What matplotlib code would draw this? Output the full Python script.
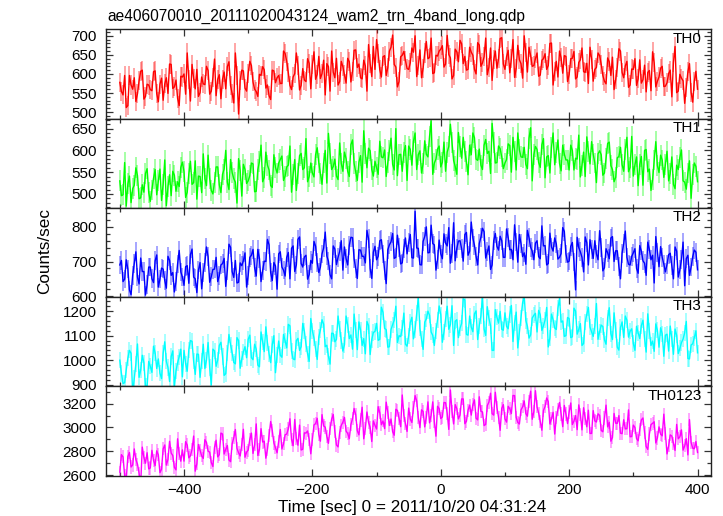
import numpy as np
import matplotlib
matplotlib.use("Agg")
import matplotlib.pyplot as plt
from matplotlib.ticker import MultipleLocator

plt.rcParams['font.family'] = ['Liberation Sans', 'DejaVu Sans']

# light curve bins, start time and bin step (sec)
t_start = -500
t_step = 2.5

# count rates per band (counts/sec)
th0 = [
    578, 554, 545, 596, 512, 517, 596, 571, 560, 590, 528, 548, 582, 607, 610, 534, 541, 573, 571, 559,
    556, 606, 608, 548, 527, 573, 589, 531, 574, 590, 549, 626, 625, 562, 566, 584, 536, 517, 594, 592,
    600, 547, 655, 586, 529, 625, 588, 561, 612, 541, 551, 592, 574, 572, 620, 609, 547, 555, 590, 639,
    543, 586, 598, 535, 586, 605, 561, 619, 632, 569, 549, 524, 655, 597, 495, 583, 610, 608, 563, 555,
    602, 633, 622, 579, 560, 554, 541, 599, 596, 619, 611, 563, 571, 543, 533, 610, 608, 577, 590, 596,
    575, 575, 660, 654, 633, 603, 570, 559, 592, 601, 655, 623, 558, 570, 614, 584, 580, 640, 628, 561,
    624, 658, 586, 599, 646, 588, 601, 636, 545, 627, 619, 555, 660, 605, 590, 641, 571, 580, 633, 619,
    598, 576, 641, 632, 579, 607, 662, 663, 617, 626, 590, 587, 636, 621, 555, 677, 627, 593, 672, 612,
    690, 653, 611, 592, 645, 648, 596, 617, 660, 670, 702, 625, 618, 566, 580, 645, 649, 659, 635, 614,
    612, 629, 668, 657, 700, 593, 621, 663, 590, 615, 655, 685, 640, 643, 694, 601, 603, 649, 647, 660,
    665, 674, 618, 626, 701, 651, 642, 587, 596, 665, 658, 632, 688, 679, 627, 646, 610, 612, 670, 657,
    649, 612, 600, 682, 676, 620, 629, 645, 694, 598, 618, 668, 583, 637, 660, 615, 640, 693, 695, 626,
    612, 645, 662, 603, 640, 690, 591, 614, 675, 637, 627, 589, 700, 656, 605, 670, 648, 620, 622, 640,
    655, 594, 597, 636, 640, 653, 612, 622, 680, 681, 571, 606, 633, 592, 660, 642, 602, 648, 646, 580,
    598, 640, 641, 659, 587, 592, 630, 637, 668, 606, 604, 628, 575, 670, 639, 581, 612, 617, 655, 648,
    625, 596, 581, 574, 642, 632, 596, 644, 559, 585, 618, 666, 660, 604, 590, 621, 633, 565, 571, 613,
    612, 640, 570, 587, 637, 576, 585, 623, 553, 604, 609, 556, 658, 629, 566, 581, 592, 615, 620, 567,
    568, 577, 601, 610, 540, 630, 672, 551, 555, 599, 589, 582, 523, 565, 606, 627, 552, 526, 580, 607,
    560,
]
th1 = [
    530, 496, 498, 572, 472, 523, 541, 480, 512, 520, 560, 542, 489, 491, 521, 504, 547, 558, 503, 483,
    509, 536, 556, 498, 530, 557, 485, 522, 578, 473, 517, 544, 496, 552, 543, 506, 528, 517, 561, 573,
    551, 492, 504, 546, 575, 522, 526, 576, 488, 541, 540, 503, 592, 535, 519, 589, 535, 508, 500, 527,
    562, 562, 521, 503, 545, 557, 600, 527, 510, 579, 549, 535, 527, 479, 581, 554, 495, 568, 556, 524,
    530, 542, 571, 569, 505, 506, 556, 574, 612, 528, 538, 596, 566, 555, 519, 515, 590, 561, 548, 571,
    579, 587, 531, 541, 562, 566, 610, 504, 545, 579, 508, 547, 588, 593, 556, 560, 627, 528, 540, 571,
    548, 539, 590, 606, 571, 547, 522, 571, 600, 525, 639, 593, 556, 563, 580, 541, 533, 617, 570, 552,
    596, 581, 552, 540, 613, 624, 570, 551, 531, 573, 588, 527, 645, 592, 560, 605, 599, 556, 541, 575,
    560, 545, 621, 585, 583, 601, 540, 572, 600, 628, 568, 555, 650, 542, 590, 591, 552, 596, 611, 531,
    610, 602, 566, 621, 640, 556, 590, 599, 548, 569, 622, 591, 585, 632, 668, 545, 571, 580, 603, 610,
    562, 573, 619, 552, 596, 609, 660, 619, 577, 563, 545, 641, 608, 582, 630, 598, 574, 544, 612, 590,
    640, 629, 580, 577, 603, 566, 556, 612, 625, 593, 598, 547, 662, 618, 571, 572, 610, 604, 585, 558,
    571, 579, 615, 611, 550, 630, 598, 555, 640, 601, 585, 584, 607, 568, 558, 628, 652, 530, 590, 609,
    602, 572, 561, 613, 627, 537, 585, 588, 548, 607, 640, 567, 596, 624, 570, 553, 612, 591, 578, 578,
    555, 612, 600, 555, 582, 580, 635, 539, 566, 596, 540, 631, 598, 569, 620, 591, 571, 526, 592, 599,
    590, 543, 548, 581, 616, 619, 565, 556, 528, 538, 583, 586, 607, 567, 552, 602, 630, 551, 561, 632,
    541, 567, 585, 519, 568, 586, 520, 600, 602, 551, 557, 508, 533, 578, 620, 565, 549, 589, 578, 538,
    568, 598, 530, 547, 585, 522, 512, 566, 556, 584, 601, 530, 527, 511, 548, 576, 490, 544, 571, 563,
    528,
]
th2 = [
    690, 703, 642, 649, 705, 678, 618, 604, 660, 694, 728, 655, 635, 710, 671, 671, 603, 633, 684, 684,
    650, 639, 702, 719, 626, 649, 681, 678, 645, 623, 715, 703, 660, 668, 612, 642, 693, 732, 670, 655,
    631, 685, 688, 637, 720, 736, 655, 650, 610, 675, 697, 621, 668, 698, 742, 714, 640, 656, 677, 678,
    712, 642, 659, 690, 694, 709, 628, 674, 750, 741, 671, 654, 703, 638, 640, 696, 688, 702, 725, 626,
    660, 712, 718, 735, 682, 658, 735, 709, 642, 674, 701, 700, 764, 748, 668, 645, 697, 687, 620, 722,
    728, 684, 675, 658, 712, 726, 650, 738, 745, 671, 690, 764, 771, 694, 684, 713, 718, 649, 662, 703,
    695, 758, 744, 697, 668, 684, 722, 739, 785, 716, 701, 662, 650, 745, 736, 691, 712, 729, 760, 675,
    742, 708, 690, 747, 770, 769, 708, 680, 651, 734, 733, 715, 715, 696, 790, 766, 680, 651, 727, 744,
    705, 715, 760, 763, 722, 674, 636, 734, 748, 757, 781, 709, 712, 776, 740, 693, 696, 738, 768, 722,
    754, 778, 711, 710, 845, 739, 738, 691, 690, 758, 772, 800, 725, 726, 805, 752, 748, 675, 706, 762,
    722, 708, 780, 753, 745, 798, 695, 724, 812, 702, 738, 759, 760, 737, 701, 778, 784, 718, 730, 814,
    768, 747, 715, 690, 752, 770, 796, 786, 710, 728, 745, 677, 690, 760, 781, 744, 733, 773, 760, 712,
    712, 794, 770, 734, 735, 705, 806, 756, 698, 778, 752, 714, 725, 692, 790, 769, 741, 730, 705, 753,
    760, 714, 708, 803, 745, 746, 690, 694, 782, 742, 730, 768, 751, 707, 712, 723, 798, 787, 722, 698,
    701, 744, 755, 699, 618, 770, 740, 728, 712, 670, 771, 754, 690, 763, 735, 709, 760, 722, 705, 789,
    740, 673, 682, 737, 725, 708, 768, 772, 700, 731, 731, 686, 650, 724, 752, 788, 712, 692, 690, 715,
    725, 737, 680, 666, 746, 730, 702, 695, 660, 756, 735, 705, 718, 638, 772, 727, 685, 743, 712, 692,
    670, 692, 720, 724, 688, 650, 742, 730, 655, 676, 705, 756, 630, 708, 718, 660, 684, 714, 733, 727,
    676,
]
th3 = [
    1000, 946, 905, 908, 960, 1008, 1040, 1028, 865, 927, 985, 1066, 930, 960, 1020, 989, 895, 893, 995, 975,
    950, 1057, 1030, 966, 1005, 947, 925, 1028, 1075, 995, 970, 913, 1015, 1038, 890, 956, 990, 1014, 1045, 932,
    1040, 986, 955, 1043, 1080, 1077, 995, 942, 1025, 1024, 930, 995, 1065, 966, 1000, 1072, 970, 899, 1045, 1038,
    975, 1001, 1060, 1073, 1015, 938, 945, 1030, 1105, 1063, 1030, 991, 985, 1092, 1080, 967, 1005, 1034, 1055, 1010,
    1085, 1102, 1010, 1002, 1065, 1045, 980, 973, 1115, 1074, 1035, 1136, 1070, 1026, 990, 1064, 1100, 949, 1020, 1078,
    1020, 1012, 1105, 1079, 1050, 1146, 1140, 1036, 1005, 1002, 1080, 1089, 1040, 1055, 1150, 1118, 1065, 1026, 995, 1170,
    1120, 1090, 1045, 1003, 1095, 1123, 1165, 1147, 1055, 1061, 1015, 984, 1110, 1109, 1075, 1085, 1180, 1128, 1080, 1037,
    1063, 1180, 1143, 1088, 1103, 1045, 1188, 1122, 1043, 1156, 1123, 1060, 1088, 1026, 1158, 1141, 1023, 1084, 1113, 1117,
    1150, 1081, 1085, 1216, 1195, 1129, 1125, 1053, 1055, 1125, 1145, 1163, 1220, 1072, 1100, 1096, 1130, 1192, 1065, 1057,
    1100, 1154, 1175, 1087, 1125, 1192, 1255, 1130, 1085, 1044, 1155, 1168, 1200, 1183, 1115, 1101, 1060, 1120, 1165, 1221,
    1185, 1073, 1115, 1169, 1220, 1126, 1145, 1222, 1060, 1159, 1165, 1092, 1130, 1150, 1250, 1246, 1105, 1102, 1180, 1135,
    1116, 1189, 1201, 1084, 1141, 1180, 1260, 1127, 1101, 1218, 1171, 1141, 1040, 1040, 1206, 1175, 1151, 1199, 1126, 1122,
    1193, 1138, 1128, 1186, 1223, 1076, 1153, 1196, 1050, 1114, 1173, 1234, 1262, 1162, 1138, 1090, 1103, 1172, 1183, 1191,
    1115, 1203, 1185, 1121, 1140, 1164, 1215, 1054, 1090, 1188, 1165, 1131, 1125, 1212, 1252, 1155, 1160, 1097, 1100, 1174,
    1170, 1092, 1095, 1212, 1200, 1106, 1125, 1149, 1060, 1068, 1155, 1188, 1215, 1135, 1115, 1097, 1140, 1231, 1085, 1116,
    1143, 1137, 1083, 1065, 1173, 1214, 1108, 1084, 1193, 1123, 1053, 1041, 1133, 1156, 1093, 1180, 1163, 1094, 1118, 1128,
    1068, 1040, 1138, 1112, 1088, 1141, 1163, 1088, 1033, 1189, 1118, 1060, 1078, 1036, 1148, 1122, 1053, 1132, 1108, 1016,
    1102, 1106, 1037, 1139, 1087, 1024, 1127, 1101, 1027, 1048, 1072, 1086, 1112, 1158, 1007, 1005, 1062, 1067, 1092, 1120,
    1030,
]
th0123 = [
    2625, 2772, 2753, 2596, 2565, 2756, 2790, 2668, 2685, 2820, 2730, 2692, 2617, 2524, 2835, 2748, 2700, 2788, 2652, 2660,
    2808, 2724, 2680, 2804, 2770, 2620, 2650, 2820, 2853, 2684, 2732, 2884, 2785, 2764, 2665, 2644, 2905, 2780, 2717, 2812,
    2717, 2881, 2853, 2745, 2762, 2817, 2928, 2633, 2695, 2857, 2808, 2761, 2740, 2897, 2875, 2801, 2793, 2705, 2672, 2833,
    2893, 2753, 2772, 2953, 2945, 2777, 2817, 2849, 2727, 2713, 2863, 2913, 2983, 2825, 2787, 2761, 2855, 2985, 2750, 2793,
    2810, 2902, 2953, 2782, 2855, 3030, 2765, 2814, 2990, 2878, 2885, 2742, 2817, 2934, 3050, 2974, 2870, 2830, 2787, 2886,
    2983, 2819, 2862, 2939, 2945, 2987, 3073, 2899, 2847, 3067, 2907, 2851, 3020, 2811, 2817, 2955, 2953, 2971, 2900, 2779,
    2897, 3021, 3033, 3077, 2942, 2885, 3108, 3013, 3003, 2925, 2867, 2989, 3070, 3109, 2965, 2853, 2837, 2957, 3018, 3045,
    3085, 2970, 2950, 2906, 3025, 3074, 3160, 3106, 2972, 2938, 3063, 3170, 2905, 2994, 3130, 3042, 3002, 2882, 3055, 3018,
    2987, 3175, 3123, 3023, 3055, 2991, 3213, 3127, 3017, 3071, 2965, 2935, 3153, 3143, 3078, 3007, 3273, 3103, 3032, 2967,
    3163, 3071, 3042, 3167, 3268, 3223, 3087, 2999, 3148, 3135, 3005, 3087, 3215, 3039, 3103, 3215, 3050, 2927, 3178, 3159,
    3075, 3088, 3210, 3208, 3120, 2984, 3315, 3136, 3030, 3192, 3158, 3072, 3105, 3240, 3240, 3032, 3052, 3144, 3188, 3104,
    3191, 3232, 3078, 3064, 3258, 3136, 3131, 3016, 3026, 3184, 3213, 3288, 3116, 3104, 3296, 3168, 3086, 2976, 3161, 3192,
    3072, 3045, 3178, 3157, 3117, 3269, 3268, 3085, 3042, 3029, 3148, 3173, 3223, 3117, 3095, 3221, 3305, 3069, 3133, 3309,
    3173, 3121, 3052, 2977, 3143, 3177, 3248, 3217, 3030, 3073, 3128, 2945, 3082, 3153, 3210, 3113, 3007, 3185, 3113, 3033,
    3130, 3206, 3025, 3054, 3100, 2982, 3190, 3110, 2980, 3166, 3078, 3006, 3145, 2950, 2950, 3142, 3055, 3046, 3115, 3102,
    2975, 2964, 3080, 3188, 3005, 3044, 2885, 2916, 3118, 3036, 3035, 3100, 2952, 2948, 3065, 2988, 2990, 3148, 2922, 2924,
    3020, 3000, 2907, 2888, 2983, 3064, 3080, 2960, 2840, 2816, 2945, 3024, 3035, 3048, 2870, 2912, 3005, 2944, 2930, 3112,
    2950, 2778, 2845, 2938, 2928, 2866, 2807, 3026, 2905, 2922, 2980, 2810, 2845, 2906, 2770, 3066, 2875, 2826, 2822, 2882,
    2790,
]

bands = ["TH0", "TH1", "TH2", "TH3", "TH0123"]
rates = [th0, th1, th2, th3, th0123]
errors = [25, 24, 27, 33, 55]

colors = ["#ff0000", "#00ff00", "#0000ff", "#00ffff", "#ff00ff"]
ylims = [(483, 717), (468, 673), (597, 855), (893, 1257), (2595, 3345)]
major_step = [50, 50, 100, 100, 200]
minor_step = [10, 10, 20, 20, 100]


def plot_light_curves():
    fig = plt.figure(figsize=(7.23, 5.16), dpi=100)
    left, right, bottom, top = 0.1462, 0.9834, 0.0781, 0.9432
    h = (top - bottom) / len(bands)

    for i, name in enumerate(bands):
        ax = fig.add_axes([left, top - (i + 1) * h, right - left, h])
        vals = np.array(rates[i], dtype=float)
        t = t_start + t_step * np.arange(len(vals))

        ax.errorbar(t, vals, yerr=errors[i], fmt='none', ecolor=colors[i],
                    elinewidth=1.1, alpha=0.45)
        ax.plot(t, vals, color=colors[i], lw=1.0)

        ax.set_xlim(-522, 421)
        ax.set_ylim(*ylims[i])
        ax.xaxis.set_major_locator(MultipleLocator(200))
        ax.xaxis.set_minor_locator(MultipleLocator(100))
        ax.yaxis.set_major_locator(MultipleLocator(major_step[i]))
        ax.yaxis.set_minor_locator(MultipleLocator(minor_step[i]))
        ax.tick_params(which='both', direction='in', top=True, right=True,
                       labelsize=11, width=0.9, color='#333333')
        ax.tick_params(which='major', length=4.8)
        ax.tick_params(which='minor', length=2.6)
        ax.tick_params(axis='y', pad=6.5)
        ax.tick_params(axis='x', pad=5)
        for sp in ax.spines.values():
            sp.set_linewidth(1.0)
            sp.set_color('#222222')
        if i < len(bands) - 1:
            ax.tick_params(labelbottom=False)

        ax.text(0.985, 0.975, name, transform=ax.transAxes, ha='right',
                va='top', fontsize=11)

    fig.text(107 / 723, 1 - 20.7 / 516,
             "ae406070010_20111020043124_wam2_trn_4band_long.qdp",
             ha='left', va='baseline', fontsize=11.2)
    fig.text(0.062, 0.5136, "Counts/sec", rotation=90, ha='center',
             va='center', fontsize=12.3)
    fig.text(0.5705, 0.0174, "Time [sec] 0 = 2011/10/20 04:31:24",
             ha='center', va='center', fontsize=12.3)

    fig.savefig("out.png", dpi=100)
    plt.close(fig)


if __name__ == "__main__":
    plot_light_curves()
